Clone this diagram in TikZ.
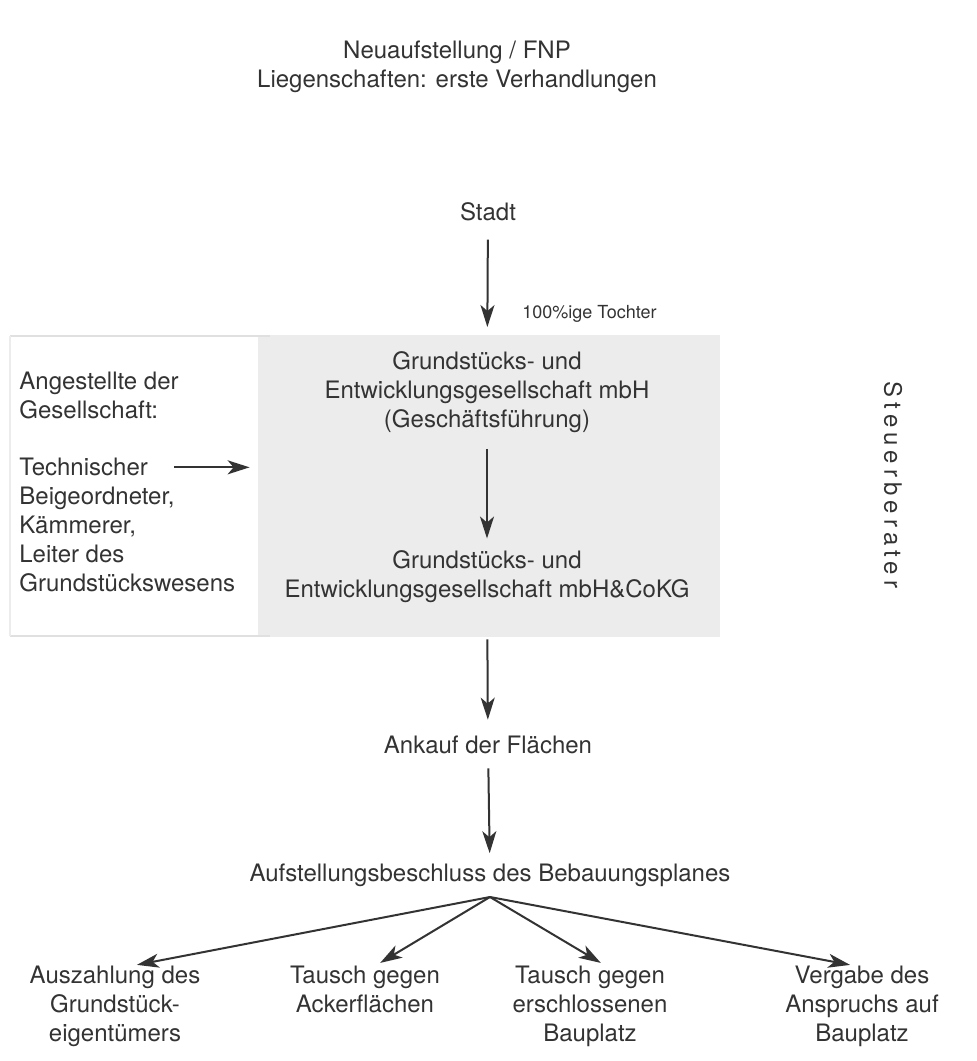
\documentclass[tikz,border=0pt]{standalone}
\usepackage{fontspec}
\setmainfont{TeX Gyre Heros}
\usetikzlibrary{arrows.meta}
\definecolor{ink}{HTML}{333333}
\definecolor{shade}{HTML}{ECECEC}
\definecolor{rim}{HTML}{E0E0E0}
\tikzset{
 lbl/.style={align=center,text=ink,font=\fontsize{12}{14.5}\selectfont,inner sep=0pt},
 arr/.style={-{Stealth[length=11pt,width=7pt,inset=3pt]},draw=ink,line width=1pt},
}
\begin{document}
\begin{tikzpicture}[x=0.5pt,y=-0.5pt]
 \useasboundingbox (0,0) rectangle (976,1061);
 \node[fill=shade,minimum width=231pt,minimum height=151pt,inner sep=0pt] (shadebox) at (489,486) {};
 \draw[rim,line width=0.9pt] (270,336) -- (10,336) (10,636) -- (270,636);
 \draw[rim!60,line width=0.6pt] (10,336) -- (10,636);
 \node[lbl] (titel) at (457,67) {Neuaufstellung / FNP\\Liegenschaften: erste Verhandlungen};
 \node[lbl] (stadt) at (488,212) {Stadt};
 \node[lbl,font=\fontsize{9}{11}\selectfont,anchor=west] (tochter) at (522,314) {100\%ige Tochter};
 \node[lbl] (gmbh) at (487,392) {Grundstücks- und\\Entwicklungsgesellschaft mbH\\(Geschäftsführung)};
 \node[lbl] (kg) at (487,577) {Grundstücks- und\\Entwicklungsgesellschaft mbH\&CoKG};
 \node[lbl] (ankauf) at (488,745) {Ankauf der Flächen};
 \node[lbl] (beschluss) at (490,875) {Aufstellungsbeschluss des Bebauungsplanes};
 \node[lbl,align=left,anchor=north west] (angest) at (19,372) {Angestellte der\\Gesellschaft:};
 \node[lbl,align=left,anchor=north west] (techn) at (19,458) {Technischer};
 \node[lbl,align=left,anchor=north west] (rest) at (19,487) {Beigeordneter,\\Kämmerer,\\Leiter des\\Grundstückswesens};
 \node[lbl,rotate=-90,font=\fontsize{12}{14.5}\selectfont\addfontfeature{LetterSpace=21}] (steuer) at (893,485) {Steuerberater};
 \node[lbl,anchor=north] (aus1) at (115,966) {Auszahlung des\\Grundstück-\\eigentümers};
 \node[lbl,anchor=north] (aus2) at (365,966) {Tausch gegen\\Ackerflächen};
 \node[lbl,anchor=north] (aus3) at (590,966) {Tausch gegen\\erschlossenen\\Bauplatz};
 \node[lbl,anchor=north] (aus4) at (862,966) {Vergabe des\\Anspruchs auf\\Bauplatz};
 \coordinate (fan) at (490,897);
 \draw[arr,shorten <=9pt,shorten >=12pt] (stadt) -- (gmbh);
 \draw[arr,shorten <=8pt,shorten >=6pt] (gmbh) -- (kg);
 \draw[arr,shorten <=18pt,shorten >=8pt] (kg) -- (ankauf);
 \draw[arr,shorten <=7pt,shorten >=5pt] (ankauf) -- (beschluss);
 \draw[arr,shorten <=13pt,shorten >=4pt] (techn.east) -- (techn.east -| shadebox.west);
 \draw[arr,shorten >=3pt] (fan) -- ([xshift=8pt]aus1.north);
 \draw[arr,shorten >=3pt] (fan) -- ([xshift=5pt]aus2.north);
 \draw[arr,shorten >=3pt] (fan) -- ([xshift=8pt]aus3.north);
 \draw[arr,shorten >=3pt] (fan) -- ([xshift=-3pt]aus4.north);
\end{tikzpicture}
\end{document}
